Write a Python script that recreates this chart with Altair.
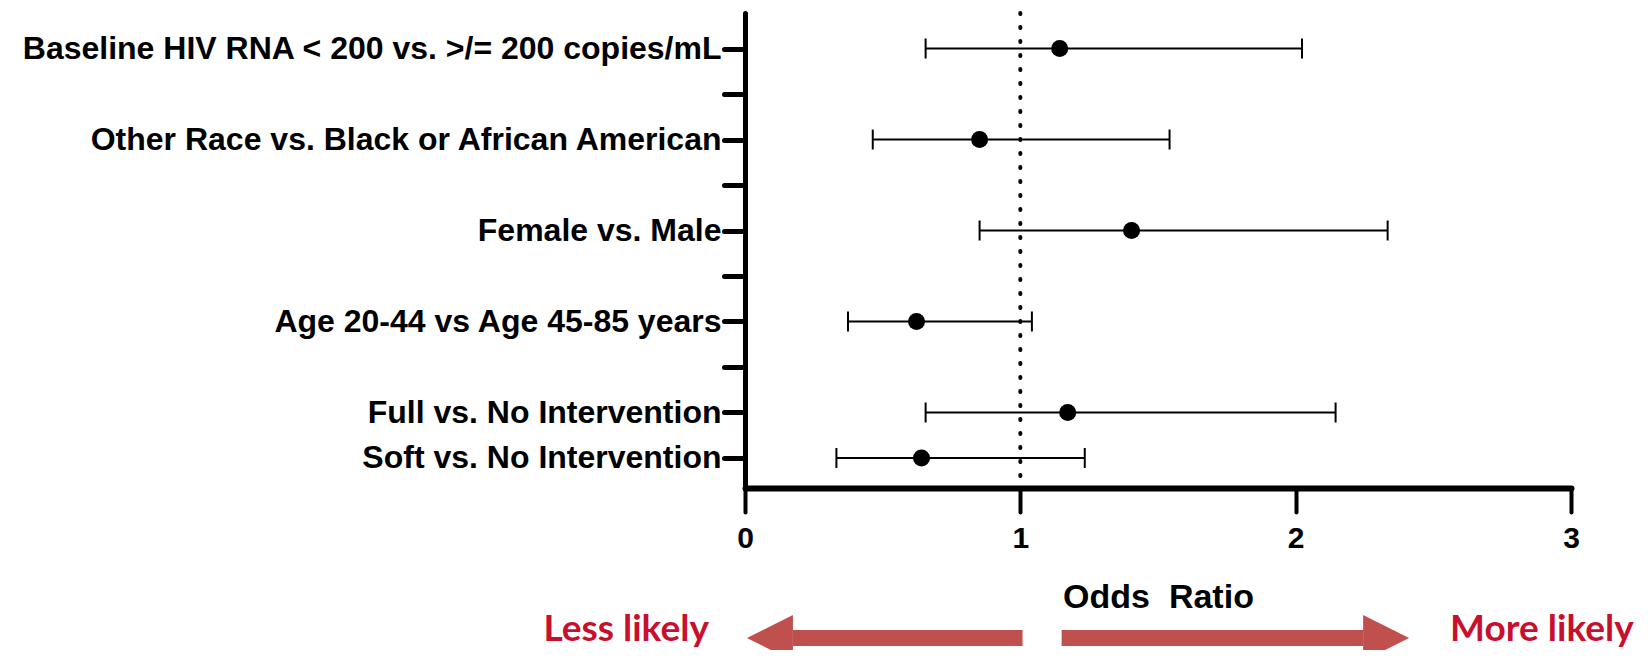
import altair as alt
import pandas as pd

# ---- data ----
comparisons = [
    "Baseline HIV RNA < 200 vs. >/= 200 copies/mL",
    "Other Race vs. Black or African American",
    "Female vs. Male",
    "Age 20-44 vs Age 45-85 years",
    "Full vs. No Intervention",
    "Soft vs. No Intervention",
]
odds_ratio = [1.143, 0.852, 1.404, 0.623, 1.172, 0.641]
ci_low = [0.656, 0.464, 0.852, 0.374, 0.656, 0.332]
ci_high = [2.023, 1.542, 2.334, 1.042, 2.145, 1.234]

# axis rows, top to bottom (blank rows are unlabeled ticks)
axis_rows = [
    comparisons[0], " ",
    comparisons[1], "  ",
    comparisons[2], "   ",
    comparisons[3], "    ",
    comparisons[4],
    comparisons[5],
]
x_ticks = [0, 1, 2, 3]
reference_or = [1]

# direction arrows under the axis (in odds-ratio units)
arrow_side = ["left", "right"]
arrow_from = [1.008, 1.15]
arrow_to = [0.174, 2.245]
arrow_text = ["Less likely", "More likely"]

FONT = "Liberation Sans"
ARROW = "#C0504D"
RED_TXT = "#C8102E"

df = pd.DataFrame({"comparison": comparisons, "or": odds_ratio,
                   "lo": ci_low, "hi": ci_high})
arrows = pd.DataFrame({"side": arrow_side, "start": arrow_from,
                       "end": arrow_to, "label": arrow_text})
ref = pd.DataFrame({"ref": reference_or})

xscale = alt.Scale(domain=[0, 3], nice=False, zero=False)
yscale = alt.Scale(type="point", domain=axis_rows, padding=0.72, align=0.542)

xaxis = alt.Axis(
    values=x_ticks, format="d", grid=False, labelFlush=False,
    domainWidth=6, domainColor="black", domainCap="round",
    tickSize=24, tickWidth=4, tickColor="black", tickCap="round",
    labelFont=FONT, labelFontSize=30, labelFontWeight="bold",
    labelColor="black", labelPadding=11,
    title="Odds\u00a0 Ratio", titleFont=FONT, titleFontSize=34,
    titleFontWeight="bold", titleColor="black",
    titleBaseline="alphabetic", titleY=119,
)
yaxis = alt.Axis(
    title=None, grid=False,
    domainWidth=5, domainColor="black", domainCap="round",
    tickSize=21, tickWidth=5, tickColor="black", tickCap="round",
    labelFont=FONT, labelFontSize=32, labelFontWeight="bold",
    labelColor="black", labelPadding=3, labelLimit=1000,
)

base = alt.Chart(df)

whisker = base.mark_rule(color="black", strokeWidth=2).encode(
    x=alt.X("lo:Q", scale=xscale, axis=xaxis),
    x2="hi:Q",
    y=alt.Y("comparison:N", scale=yscale, axis=yaxis, sort=axis_rows),
)
cap_lo = base.mark_tick(color="black", thickness=2, size=20, opacity=1).encode(
    x=alt.X("lo:Q", scale=xscale), y=alt.Y("comparison:N", scale=yscale, sort=axis_rows))
cap_hi = base.mark_tick(color="black", thickness=2, size=20, opacity=1).encode(
    x=alt.X("hi:Q", scale=xscale), y=alt.Y("comparison:N", scale=yscale, sort=axis_rows))
points = base.mark_circle(color="black", size=290, opacity=1).encode(
    x=alt.X("or:Q", scale=xscale), y=alt.Y("comparison:N", scale=yscale, sort=axis_rows))

ref_line = alt.Chart(ref).mark_rule(
    color="black", strokeWidth=4, strokeDash=[1, 13], strokeCap="round"
).encode(x=alt.X("ref:Q", scale=xscale))

ARROW_Y = 625
TEXT_Y = 628
shafts = alt.Chart(arrows).mark_rule(color=ARROW, strokeWidth=16).encode(
    x=alt.X("start:Q", scale=xscale), x2="end:Q", y=alt.value(ARROW_Y))
head_left = alt.Chart(arrows).transform_filter(alt.datum.side == "left").mark_point(
    shape="M-2,0L0,-1L0,1Z", filled=True, size=2116, color=ARROW, opacity=1, strokeWidth=0
).encode(x=alt.X("end:Q", scale=xscale), y=alt.value(ARROW_Y))
head_right = alt.Chart(arrows).transform_filter(alt.datum.side == "right").mark_point(
    shape="M2,0L0,-1L0,1Z", filled=True, size=2116, color=ARROW, opacity=1, strokeWidth=0
).encode(x=alt.X("end:Q", scale=xscale), y=alt.value(ARROW_Y))

txt_left = alt.Chart(arrows).transform_filter(alt.datum.side == "left").mark_text(
    font="Lato", fontSize=37, fontWeight="bold", color=RED_TXT,
    align="right", baseline="alphabetic", dx=-84
).encode(x=alt.X("end:Q", scale=xscale), y=alt.value(TEXT_Y), text="label:N")
txt_right = alt.Chart(arrows).transform_filter(alt.datum.side == "right").mark_text(
    font="Lato", fontSize=37, fontWeight="bold", color=RED_TXT,
    align="left", baseline="alphabetic", dx=87
).encode(x=alt.X("end:Q", scale=xscale), y=alt.value(TEXT_Y), text="label:N")

chart = alt.layer(
    ref_line, whisker, cap_lo, cap_hi, points,
    shafts, head_left, head_right, txt_left, txt_right,
).properties(
    width=826, height=475,
    autosize=alt.AutoSizeParams(type="none"),
    padding={"left": 737, "top": 5, "right": 73, "bottom": 162},
).configure_view(stroke=None)

chart.save("out.html", embed_options={"renderer": "svg", "actions": False})
